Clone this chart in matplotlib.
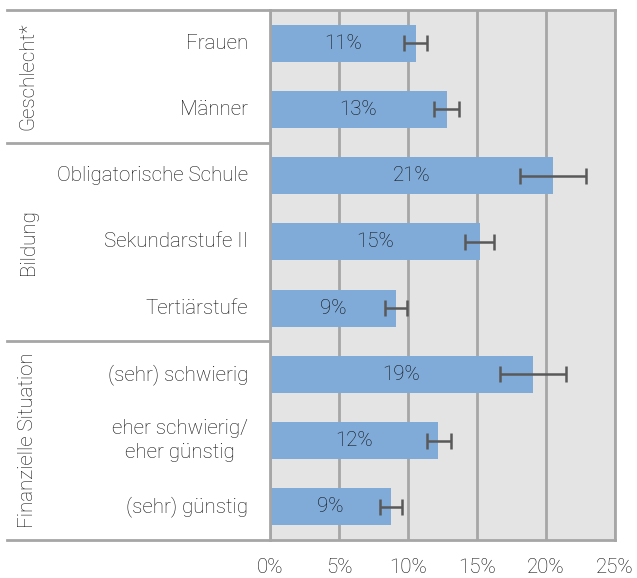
import matplotlib.pyplot as plt
from matplotlib.lines import Line2D

# data
kategorien = ["Frauen", "Männer", "Obligatorische Schule", "Sekundarstufe II",
              "Tertiärstufe", "(sehr) schwierig", "eher schwierig/\neher günstig",
              "(sehr) günstig"]
werte = [10.55, 12.8, 20.5, 15.2, 9.15, 19.05, 12.2, 8.75]
labels = ["11%", "13%", "21%", "15%", "9%", "19%", "12%", "9%"]
untere = [9.7, 11.9, 18.1, 14.15, 8.3, 16.65, 11.35, 7.95]
obere = [11.35, 13.7, 22.9, 16.2, 9.9, 21.45, 13.1, 9.55]
gruppen = ["Geschlecht*", "Bildung", "Finanzielle Situation"]
gruppen_pos = [0.5, 3, 6]
trenner = [1.5, 4.5]
ticks = [0, 5, 10, 15, 20, 25]

plt.rcParams['font.family'] = ['Roboto', 'DejaVu Sans']
plt.rcParams['font.weight'] = 'light'
txt = '#111111'
grau = '#a6a6a6'
fs = 14.8

fig = plt.figure(figsize=(6.37, 5.78), dpi=100)
W, H = 637, 578
x0, x1, y0, y1 = 270, 615, 10, 540
ax = fig.add_axes([x0 / W, 1 - y1 / H, (x1 - x0) / W, (y1 - y0) / H])
ax.set_facecolor('#e4e4e4')

pos = list(range(len(werte)))
ax.barh(pos, werte, height=0.56, color='#80abd8', zorder=2)
xerr = [[w - u for w, u in zip(werte, untere)], [o - w for w, o in zip(werte, obere)]]
ax.errorbar(werte, pos, xerr=xerr, fmt='none', ecolor='#595959', elinewidth=1.8,
            capsize=5.5, capthick=1.8, zorder=3)
for p, w, l in zip(pos, werte, labels):
    ax.text(w / 2, p, l, ha='center', va='center', fontsize=fs, color=txt, zorder=4)

ax.set_xlim(0, 25)
ax.set_ylim(7.5, -0.5)
ax.set_xticks(ticks)
ax.set_xticklabels([f"{t}%" for t in ticks], fontsize=fs, color=txt)
ax.tick_params(axis='x', length=0, pad=13)
ax.set_yticks([])
ax.grid(axis='x', color=grau, linewidth=2, zorder=1)
for s in ax.spines.values():
    s.set_color(grau)
    s.set_linewidth(2)

# category labels
for p, k in zip(pos, kategorien):
    ax.text(-22 / 345, p, k, transform=ax.get_yaxis_transform(), ha='right', va='center',
            multialignment='center', fontsize=fs, color=txt, linespacing=1.35)

# group labels
for g, gp in zip(gruppen, gruppen_pos):
    ax.text(-242 / 345, gp, g, transform=ax.get_yaxis_transform(), ha='center', va='center',
            rotation=90, fontsize=fs, color=txt)

# table lines on the left
links = (7 - x0) / (x1 - x0)
for yy in [-0.5, 7.5] + trenner:
    ax.add_line(Line2D([links, 0], [yy, yy], transform=ax.get_yaxis_transform(),
                       color=grau, linewidth=2, clip_on=False))

fig.savefig('out.png', dpi=100)
